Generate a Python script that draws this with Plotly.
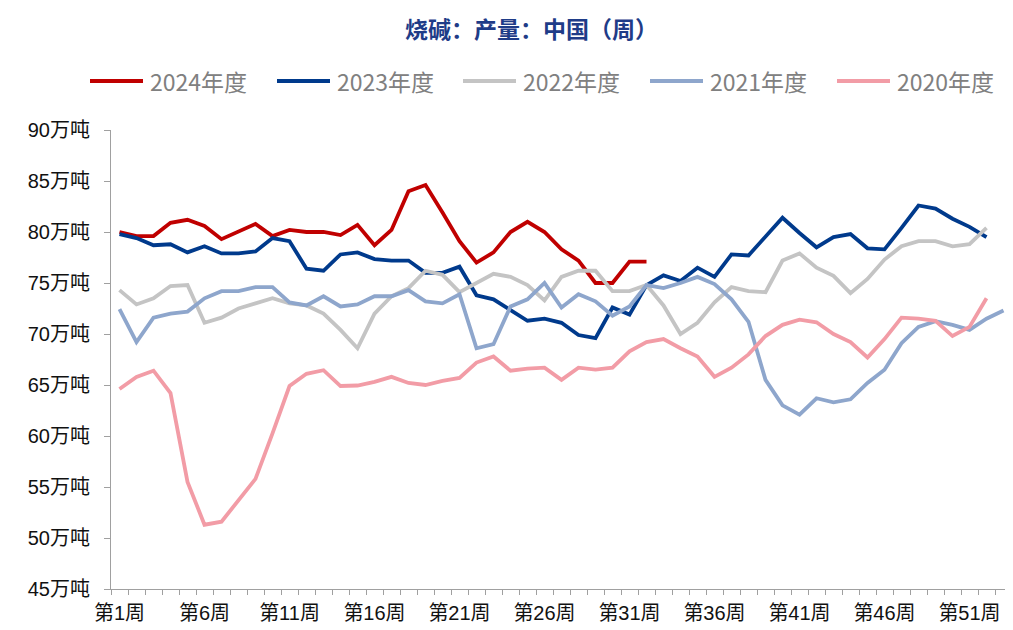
import plotly.graph_objects as go

weeks = list(range(1, 54))
tick_weeks = [1, 6, 11, 16, 21, 26, 31, 36, 41, 46, 51]
tick_labels = [f"第{w}周" for w in tick_weeks]

series_names = ["2024年度", "2023年度", "2022年度", "2021年度", "2020年度"]

y2024 = [80.0, 79.6, 79.6, 80.9, 81.2, 80.6, 79.3, 80.0, 80.8, 79.6, 80.2, 80.0, 80.0, 79.7, 80.7, 78.7,
         80.2, 84.0, 84.6, 81.9, 79.1, 77.0, 78.0, 80.0, 81.0, 80.0, 78.3, 77.2, 75.0, 75.0, 77.1, 77.1]

y2023 = [79.8, 79.4, 78.7, 78.8, 78.0, 78.6, 77.9, 77.9, 78.1, 79.4, 79.1, 76.4, 76.2, 77.8, 78.0, 77.35,
         77.2, 77.2, 76.0, 76.0, 76.6, 73.8, 73.4, 72.4, 71.3, 71.5, 71.1, 69.9, 69.6, 72.6, 71.9, 74.8,
         75.75, 75.2, 76.5, 75.6, 77.8, 77.7, 79.6, 81.4, 79.9, 78.5, 79.5, 79.8, 78.4, 78.3, 80.4, 82.6,
         82.3, 81.3, 80.5, 79.5]

y2022 = [74.3, 72.9, 73.5, 74.7, 74.8, 71.1, 71.6, 72.5, 73.0, 73.5, 73.0, 72.8, 72.0, 70.4, 68.6, 72.0,
         73.7, 74.5, 76.2, 75.8, 74.1, 75.0, 75.9, 75.6, 74.8, 73.3, 75.6, 76.2, 76.2, 74.2, 74.2, 74.8,
         72.8, 70.0, 71.1, 73.1, 74.6, 74.2, 74.1, 77.2, 77.9, 76.5, 75.7, 74.0, 75.4, 77.3, 78.6, 79.1,
         79.1, 78.6, 78.8, 80.4]

y2021 = [72.45, 69.2, 71.6, 72.0, 72.2, 73.5, 74.2, 74.2, 74.6, 74.6, 73.1, 72.8, 73.7, 72.7, 72.9, 73.7,
         73.7, 74.3, 73.2, 73.0, 73.9, 68.6, 69.0, 72.7, 73.4, 75.0, 72.6, 73.9, 73.2, 71.8, 72.7, 74.8,
         74.5, 75.0, 75.6, 74.9, 73.4, 71.2, 65.5, 63.0, 62.1, 63.7, 63.3, 63.6, 65.2, 66.5, 69.1, 70.7,
         71.25, 70.9, 70.4, 71.5, 72.3]

y2020 = [64.6, 65.8, 66.4, 64.2, 55.5, 51.3, 51.6, 53.7, 55.8, 60.25, 64.9, 66.1, 66.45, 64.9, 64.95, 65.3,
         65.8, 65.2, 65.0, 65.4, 65.7, 67.2, 67.8, 66.4, 66.6, 66.7, 65.5, 66.7, 66.5, 66.7, 68.3, 69.2,
         69.5, 68.6, 67.8, 65.8, 66.7, 68.0, 69.8, 70.9, 71.4, 71.15, 70.0, 69.2, 67.7, 69.5, 71.6, 71.5,
         71.3, 69.8, 70.7, 73.5]

series_values = [y2024, y2023, y2022, y2021, y2020]
colors = ["#C00000", "#003A8C", "#C4C4C4", "#8EA6CC", "#F29CA6"]

# page body has an 8px default margin, so the figure is drawn offset by 8px
OFF = 8
W, H = 1013 - OFF, 630 - OFF
ML, MR, MT, MB = 111 - OFF, 1, 130 - OFF, 41
PW, PH = W - ML - MR, H - MT - MB

def px_x(p):
    # p: target pixel in the browser window
    return (p - OFF - ML) / PW

def px_y(p):
    return (H - MB - (p - OFF)) / PH

fig = go.Figure()
for name, vals, col in zip(series_names, series_values, colors):
    fig.add_trace(go.Scatter(
        x=weeks[:len(vals)], y=vals, name=name, mode="lines",
        line=dict(color=col, width=3.8), showlegend=False,
    ))

# manual legend (line samples + text)
legend_line_starts = [90, 277, 463, 650, 837]
shapes = []
annotations = []
for name, col, x0 in zip(series_names, colors, legend_line_starts):
    shapes.append(dict(type="line", xref="paper", yref="paper",
                       x0=px_x(x0), x1=px_x(x0 + 53), y0=px_y(81), y1=px_y(81),
                       line=dict(color=col, width=4)))
    annotations.append(dict(text=name, xref="paper", yref="paper",
                            x=px_x(x0 + 58), y=px_y(81), xanchor="left", yanchor="middle",
                            showarrow=False,
                            font=dict(size=23, color="#808080",
                                      family="Liberation Sans Narrow, Noto Sans CJK SC")))

# title as annotation
annotations.append(dict(text="<b>烧碱：产量：中国（周）</b>", xref="paper", yref="paper",
                        x=px_x(531), y=px_y(28), xanchor="center", yanchor="middle",
                        showarrow=False,
                        font=dict(size=23, color="#1F3C88", family="Noto Sans CJK SC")))

axis_font = dict(size=20, color="#111111", family="Liberation Sans, Noto Sans CJK SC")

fig.update_layout(
    width=W, height=H,
    margin=dict(l=ML, r=MR, t=MT, b=MB),
    paper_bgcolor="white", plot_bgcolor="white",
    shapes=shapes, annotations=annotations,
    xaxis=dict(range=[0.5, 53.5], tickmode="array", tickvals=tick_weeks, ticktext=tick_labels,
               showgrid=False, zeroline=False, showline=True, linecolor="#A0A0A0", linewidth=1,
               ticks="outside", ticklen=0, tickfont=axis_font, ticklabelstandoff=6,
               automargin=False,
               minor=dict(tickmode="linear", tick0=0.5, dtick=1, ticks="outside",
                          ticklen=5, tickcolor="#A0A0A0", showgrid=False)),
    yaxis=dict(range=[45, 90], dtick=5, tick0=45, ticksuffix="万吨",
               showgrid=False, zeroline=False, showline=True, linecolor="#A0A0A0", linewidth=1,
               ticks="outside", ticklen=6, tickcolor="#A0A0A0", tickfont=axis_font,
               ticklabelstandoff=10, automargin=False),
)

fig.write_html("out.html")
